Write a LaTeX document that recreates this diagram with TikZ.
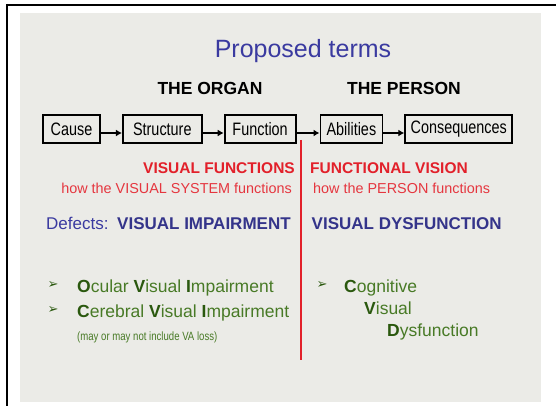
\documentclass[tikz,border=0pt]{standalone}
\usepackage{fontspec}
\setmainfont{Liberation Sans}
\newfontfamily\narrowfont[FakeStretch=0.8]{Liberation Sans}
\newfontfamily\symfont{DejaVu Sans}
\usepackage{xcolor}
\usepackage{tikz}
\usetikzlibrary{positioning,arrows.meta}
\tikzset{c-box/.style={rectangle, draw=black, line width=1.8pt, minimum height=28pt, inner sep=1pt, text centered, font=\narrowfont\fontsize{18}{20}\selectfont},
arrow/.style={line width=1.6pt,->,>={Latex[length=6pt,width=7pt]}},
c-text/.style={inner sep=0pt, anchor=base west},
c-head/.style={c-text, anchor=base, font=\bfseries\fontsize{17.5}{20}\selectfont},
c-item/.style={c-text, text=c_green, font=\fontsize{17.5}{21}\selectfont},
c-bullet/.style={inner sep=0pt, text=c_dgreen, font=\symfont\fontsize{13}{14}\selectfont}}
\definecolor{c_slide}{RGB}{235,235,231}
\definecolor{c_title}{RGB}{58,58,160}
\definecolor{c_blue}{RGB}{52,52,138}
\definecolor{c_red}{RGB}{226,32,42}
\definecolor{c_green}{RGB}{72,122,38}
\definecolor{c_dgreen}{RGB}{42,88,14}
\newcommand{\ini}[1]{\textcolor{c_dgreen}{\bfseries #1}}
\begin{document}
\begin{tikzpicture}[x=1pt, y=-1pt, node distance=21pt]
\useasboundingbox (0,0) rectangle (556,406);
\fill[c_slide] (20,13) rectangle (541,402);
\draw[line width=2.5pt] (6,5) -- (556,5);
\draw[line width=2.5pt] (7,4) -- (7,406);
\node (title) [inner sep=0pt, anchor=base, text=c_title, font=\fontsize{25}{30}\selectfont] at (303,58) {Proposed terms};
\node (organ) [c-head] at (210,95) {THE ORGAN};
\node (person) [c-head] at (404,95) {THE PERSON};
\node (cause) [c-box, minimum width=57pt] at (71.5,129) {Cause};
\node (structure) [c-box, minimum width=79pt, right=of cause] {Structure};
\node (function) [c-box, minimum width=71pt, right=of structure] {Function};
\node (abilities) [c-box, minimum width=62pt, right=23pt of function] {Abilities};
\node (consequences) [c-box, minimum width=107pt, right=of abilities] {Consequences};
\foreach \a/\b in {cause/structure, structure/function, function/abilities, abilities/consequences}
  \draw [arrow] ([yshift=-4pt]\a.east) -- ([yshift=-4pt]\b.west);
\coordinate (divtop) at (301,140);
\coordinate (divbot) at (301,360);
\draw [c_red, line width=2pt] (divtop) -- (divbot);
\node (vf) [c-text, anchor=base east, text=c_red, font=\bfseries\fontsize{15.5}{18}\selectfont] at (295,174) {VISUAL FUNCTIONS};
\node (fv) [c-text, text=c_red, font=\bfseries\fontsize{15.5}{18}\selectfont] at (310,174) {FUNCTIONAL VISION};
\node (vfhow) [c-text, anchor=base east, text=c_red!90, font=\fontsize{14.4}{17}\selectfont] at (292,193.5) {how the VISUAL SYSTEM functions};
\node (fvhow) [c-text, text=c_red!90, font=\fontsize{14.4}{17}\selectfont] at (313,193.5) {how the PERSON functions};
\node (defects) [c-text, text=c_title, font=\fontsize{17}{20}\selectfont] at (46,229) {Defects:};
\node (vi) [c-text, text=c_blue, font=\bfseries\fontsize{17}{20}\selectfont] at (117,229) {VISUAL IMPAIRMENT};
\node (vd) [c-text, text=c_blue, font=\bfseries\fontsize{17}{20}\selectfont] at (311.5,229) {VISUAL DYSFUNCTION};
\node (b1) [c-bullet] at (53,285) {➢};
\node (ovi) [c-item] at (77,292) {\ini{O}cular \ini{V}isual \ini{I}mpairment};
\node (b2) [c-bullet] at (53,310) {➢};
\node (cvi) [c-item] at (77,317) {\ini{C}erebral \ini{V}isual \ini{I}mpairment};
\node (valoss) [c-text, text=c_green, font=\narrowfont\fontsize{12}{14}\selectfont] at (77,340) {(may or may not include VA loss)};
\node (b3) [c-bullet] at (322,285) {➢};
\node (cog) [c-item] at (344,292) {\ini{C}ognitive};
\node (vis) [c-item] at (364,314) {\ini{V}isual};
\node (dys) [c-item] at (387,336) {\ini{D}ysfunction};
\end{tikzpicture}
\end{document}
